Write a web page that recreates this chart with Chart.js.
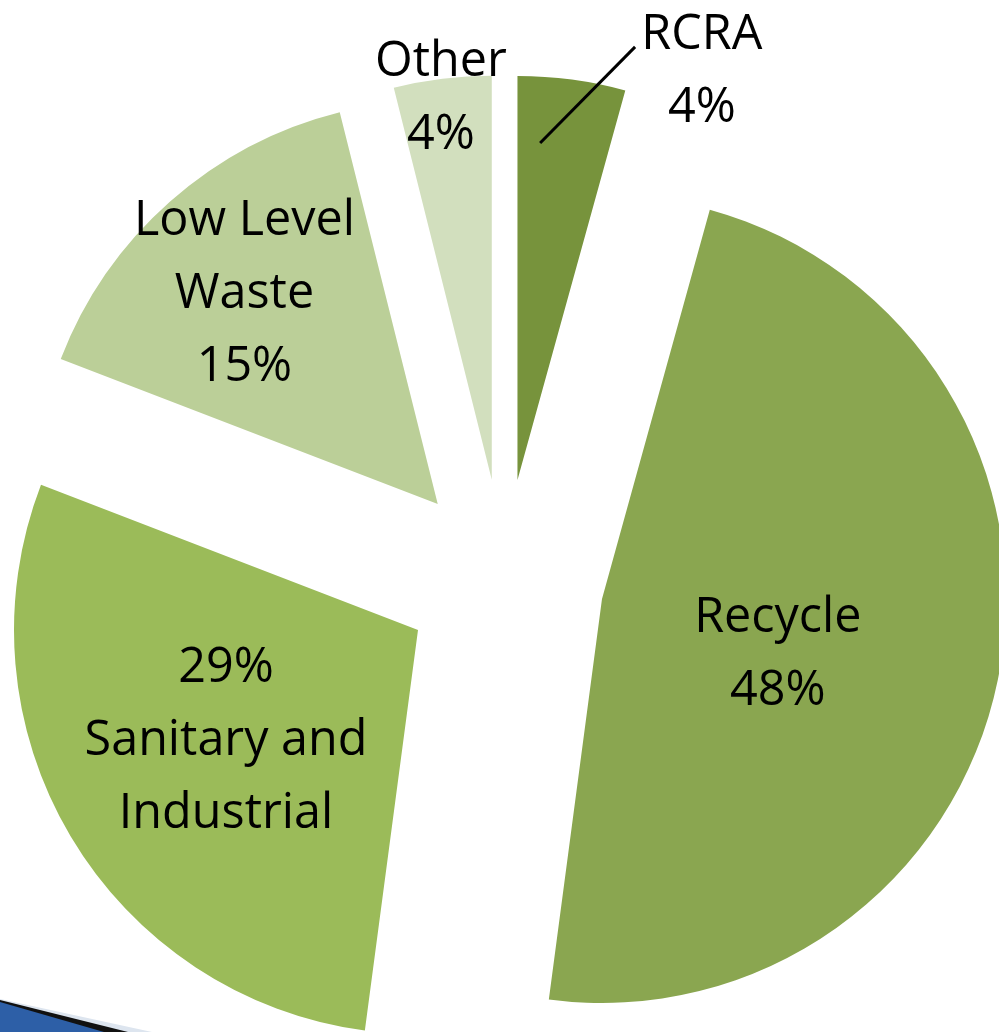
<!DOCTYPE html>
<html>
<head>
<meta charset="utf-8">
<script src="https://cdn.jsdelivr.net/npm/chart.js@4/dist/chart.umd.min.js"></script>
<style>
  html, body { margin: 0; padding: 0; background: #fff; }
  #wrap { position: relative; width: 999px; height: 1032px; overflow: hidden; }
  #wrap canvas, #wrap svg { position: absolute; left: 0; top: 0; }
</style>
</head>
<body>
<div id="wrap">
  <svg width="999" height="1032">
    <polygon points="0,999 152,1032 0,1032" fill="#dde5ef" />
    <polygon points="0,1000 128,1032 0,1032" fill="#111111" />
    <polygon points="0,1002 104,1032 0,1032" fill="#2d5fa7" />
  </svg>
</div>
<script>

const categories = ['RCRA', 'Recycle', 'Sanitary and Industrial', 'Low Level Waste', 'Other']
// shares; labels show them rounded
const shares = [4.3, 47.8, 28.75, 15.25, 3.9]
const sliceColors = ['#77933c', '#8aa650', '#9bbb59', '#bbcf98', '#d2dfbe']

// how each label is split over lines, {v} is the value
const labelLines = [
    ['RCRA', '{v}%'],
    ['Recycle', '{v}%'],
    ['{v}%', 'Sanitary and', 'Industrial'],
    ['Low Level', 'Waste', '{v}%'],
    ['Other', '{v}%'],
]
// label distance from pie centre and turn (deg) away from the slice bisector
const labelDist = [548.5, 283, 320, 388, 488.5]
const labelTurn = [13.4, 3.1, 1.0, -0.5, -0.4]

const W = 999
const H = 1032
const pieCenter = [504, 579]
const pieRadius = 404
const explode = 100   // px every slice is pulled out from the centre
const lineGap = 73
const textNudge = 4

const wrap = document.getElementById('wrap')
const total = shares.reduce((a, b) => a + b, 0)

// bisector angle of slice i (canvas radians, 0 = 3 o'clock)
const midAngle = (i) => {
    const before = shares.slice(0, i).reduce((a, b) => a + b, 0)
    return -Math.PI / 2 + (before + shares[i] / 2) / total * Math.PI * 2
}

const labelPlugin = {
    id: 'sliceLabels',
    afterDatasetsDraw(chart) {
        const ctx = chart.ctx
        const arcs = chart.getDatasetMeta(0).data
        const own = arcs.length - 1
        const ownMid = (arcs[own].startAngle + arcs[own].endAngle) / 2
        // centre of the un-exploded pie
        const cx = arcs[own].x - Math.cos(ownMid) * explode
        const cy = arcs[own].y - Math.sin(ownMid) * explode

        ctx.save()
        ctx.font = '48.5px "Open Sans"'
        ctx.fillStyle = '#000'
        ctx.textAlign = 'center'
        ctx.textBaseline = 'middle'
        arcs.forEach((arc, i) => {
            const mid = (arc.startAngle + arc.endAngle) / 2 + labelTurn[i] * Math.PI / 180
            const x = cx + Math.cos(mid) * labelDist[i]
            const y = cy + Math.sin(mid) * labelDist[i] + textNudge
            const lines = labelLines[i]
            lines.forEach((t, j) => {
                ctx.fillText(t.replace('{v}', Math.round(shares[i])), x, y + (j - (lines.length - 1) / 2) * lineGap)
            })
        })

        // leader line from the RCRA label into its slice
        const a = arcs[0]
        const mid = (a.startAngle + a.endAngle) / 2
        const p = (r, turn) => [cx + Math.cos(mid + turn * Math.PI / 180) * r, cy + Math.sin(mid + turn * Math.PI / 180) * r]
        const [x1, y1] = p(548, 6.1)
        const [x2, y2] = p(437.5, -3.0)
        ctx.strokeStyle = '#000'
        ctx.lineWidth = 3
        ctx.beginPath()
        ctx.moveTo(x1, y1)
        ctx.lineTo(x2, y2)
        ctx.stroke()
        ctx.restore()
    }
}

// one chart per slice: each draws only its own slice, with the chart area
// moved so that the slice sits pulled out along its bisector
categories.forEach((name, k) => {
    const canvas = document.createElement('canvas')
    canvas.width = W
    canvas.height = H
    wrap.appendChild(canvas)

    const sx = pieCenter[0] + Math.cos(midAngle(k)) * explode
    const sy = pieCenter[1] + Math.sin(midAngle(k)) * explode
    const padding = {
        left: Math.max(0, 2 * sx - W),
        right: Math.max(0, W - 2 * sx),
        top: Math.max(0, 2 * sy - H),
        bottom: Math.max(0, H - 2 * sy),
    }

    const last = k === categories.length - 1
    new Chart(canvas.getContext('2d'), {
        type: 'pie',
        data: {
            labels: categories,
            datasets: [{
                data: shares,
                backgroundColor: sliceColors.map((c, i) => i === k ? c : 'rgba(0,0,0,0)'),
                borderWidth: 0,
                clip: false,
            }]
        },
        options: {
            responsive: false,
            animation: false,
            radius: pieRadius,
            layout: { padding: padding },
            events: [],
            plugins: {
                legend: { display: false },
                tooltip: { enabled: false },
            }
        },
        plugins: last ? [labelPlugin] : []
    })
})

// keep the corner arrow on top
wrap.appendChild(wrap.querySelector('svg'))

</script>
</body>
</html>
